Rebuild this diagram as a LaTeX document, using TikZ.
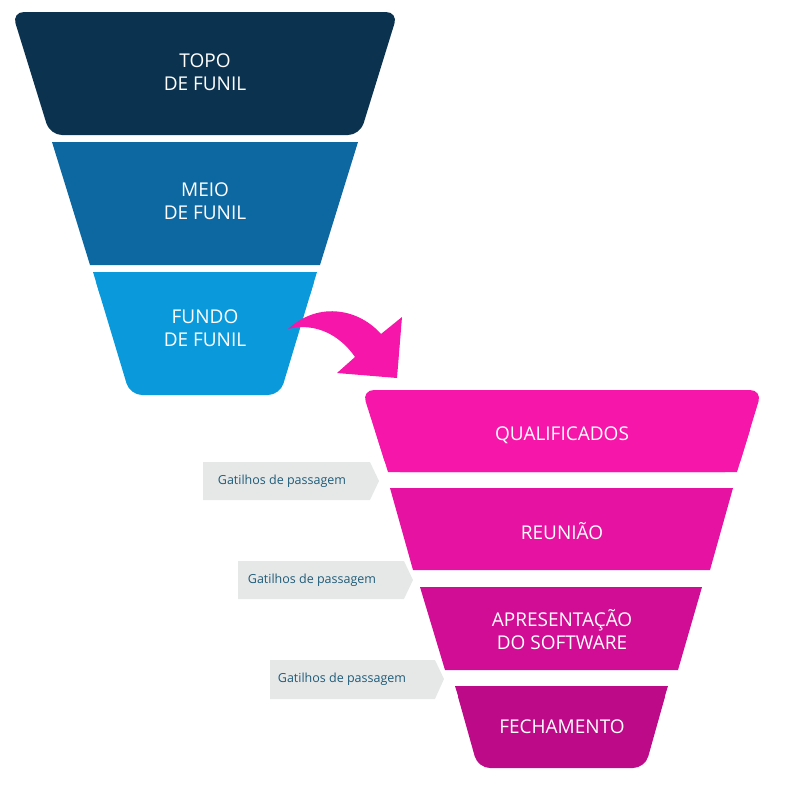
\documentclass[tikz,border=0pt]{standalone}
\usepackage{fontspec}
\setmainfont{Open Sans}
\begin{document}
\begin{tikzpicture}[x=1pt,y=-1pt,
  lbl/.style={text=white,font=\fontsize{19}{23}\selectfont,align=center},
  tag/.style={fill=tagc},
  tagt/.style={text=tagtxt,font=\fontsize{12.5}{14}\selectfont}]
\definecolor{c1}{HTML}{0B3350}\definecolor{c2}{HTML}{0D68A1}\definecolor{c3}{HTML}{0A9ADC}
\definecolor{p1}{HTML}{F716AA}\definecolor{p2}{HTML}{E512A2}\definecolor{p3}{HTML}{D00D94}\definecolor{p4}{HTML}{BD0A88}
\definecolor{tagc}{HTML}{E6E8E8}\definecolor{tagtxt}{HTML}{1F5C78}
\useasboundingbox (0,0) rectangle (800,809);
% top funnel
\fill[c1,rounded corners=12pt] (50,135) -- (12,12) -- (398,12) -- (360,135) -- cycle;
\fill[c2] (52,142) -- (358,142) -- (320,265) -- (90,265) -- cycle;
\fill[c3,rounded corners=12pt] (93,272) -- (317,272) -- (280,395) -- (130,395) -- cycle;
\fill[c3] (93,272) -- (317,272) -- (310,295) -- (100,295) -- cycle;
\node[lbl] (t1) at (205,72) {TOPO\\DE FUNIL};
\node[lbl] (t2) at (205,201) {MEIO\\DE FUNIL};
\node[lbl] (t3) at (205,328) {FUNDO\\DE FUNIL};
% arrow
\fill[p1] (288,329) .. controls (320,300) and (360,310) .. (381,334) -- (402,317) -- (397,378) -- (337,373) -- (355,357) .. controls (340,335) and (315,322) .. (288,329) -- cycle;
% pink funnel
\fill[p1,rounded corners=12pt] (388,472) -- (362,390) -- (762,390) -- (737,472) -- cycle;
\fill[p1] (388,472) -- (375,430) -- (750,430) -- (737,472) -- cycle;
\fill[p2] (390,488) -- (733,488) -- (710,570) -- (413,570) -- cycle;
\fill[p3] (420,587) -- (702,587) -- (678,670) -- (445,670) -- cycle;
\fill[p4,rounded corners=12pt] (455,686) -- (668,686) -- (645,768) -- (478,768) -- cycle;
\fill[p4] (455,686) -- (668,686) -- (660,712) -- (463,712) -- cycle;
\node[lbl] (q1) at (562,435) {QUALIFICADOS};
\node[lbl] (q2) at (562,531) {REUNIÃO};
\node[lbl] (q3) at (562,630) {APRESENTAÇÃO\\DO SOFTWARE};
\node[lbl] (q4) at (562,727) {FECHAMENTO};
% tags
\fill[tag] (203,462) -- (370,462) -- (379,481) -- (370,500) -- (203,500) -- cycle;
\fill[tag] (238,561) -- (404,561) -- (413,580) -- (404,599) -- (238,599) -- cycle;
\fill[tag] (270,660) -- (435,660) -- (444,679) -- (435,699) -- (270,699) -- cycle;
\node[tagt] (g1) at (282,481) {Gatilhos de passagem};
\node[tagt] (g2) at (312,580) {Gatilhos de passagem};
\node[tagt] (g3) at (342,679) {Gatilhos de passagem};
\end{tikzpicture}
\end{document}
